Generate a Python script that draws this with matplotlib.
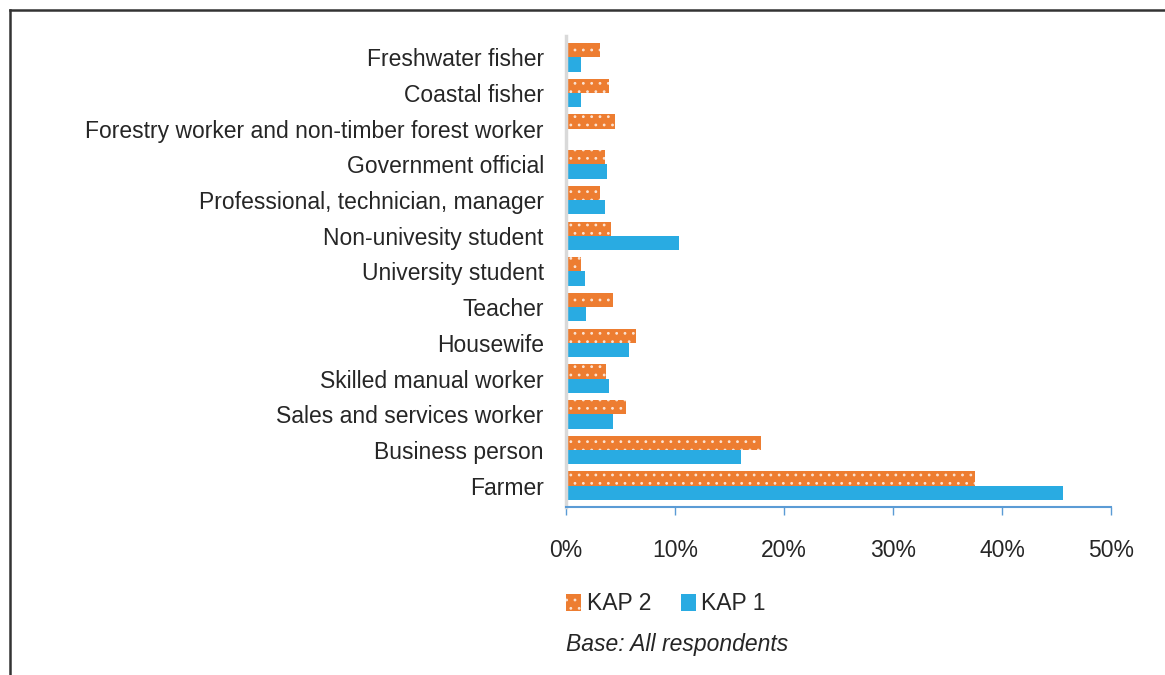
import matplotlib.pyplot as plt
from matplotlib.patches import Patch
from matplotlib.lines import Line2D

plt.rcParams['font.family'] = ['Liberation Sans', 'DejaVu Sans']
plt.rcParams['hatch.linewidth'] = 0.8

categories = ['Freshwater fisher', 'Coastal fisher',
              'Forestry worker and non-timber forest worker',
              'Government official', 'Professional, technician, manager',
              'Non-univesity student', 'University student', 'Teacher',
              'Housewife', 'Skilled manual worker', 'Sales and services worker',
              'Business person', 'Farmer']
kap2 = [3.1, 3.9, 4.5, 3.6, 3.1, 4.1, 1.4, 4.3, 6.4, 3.7, 5.5, 17.9, 37.5]
kap1 = [1.4, 1.4, 0.1, 3.8, 3.6, 10.4, 1.7, 1.8, 5.8, 3.9, 4.3, 16.1, 45.6]
xticks = [0, 10, 20, 30, 40, 50]

orange = '#ED7D31'
blue = '#29ABE2'
textc = '#262626'
fs = 16.5

fig = plt.figure(figsize=(11.65, 6.75), dpi=100)
ax = fig.add_axes([566/1165, 1-507/675, 545/1165, 471/675])

y = list(range(len(categories)))
ax.barh([i - 0.2 for i in y], kap2, height=0.4, color=orange,
        edgecolor='#FBE3D3', linewidth=0, hatch='..', label='KAP 2')
ax.barh([i + 0.2 for i in y], kap1, height=0.4, color=blue,
        linewidth=0, label='KAP 1')

ax.set_ylim(len(categories) - 0.4, -0.6)
ax.set_xlim(0, 50)
ax.set_xticks(xticks)
ax.set_xticklabels([f'{t}%' for t in xticks])
ax.set_yticks(y)
ax.set_yticklabels(categories)

for s in ['top', 'right']:
    ax.spines[s].set_visible(False)
ax.spines['left'].set_color('#D9D9D9')
ax.spines['left'].set_linewidth(2.5)
ax.spines['bottom'].set_color('#5B9BD5')
ax.spines['bottom'].set_linewidth(1.5)

ax.tick_params(axis='y', length=0, pad=16, labelsize=fs, labelcolor=textc)
ax.tick_params(axis='x', direction='out', length=6, width=1, color='#5B9BD5',
               pad=17, labelsize=fs, labelcolor=textc)

handles = [Patch(facecolor=orange, edgecolor='#FBE3D3', linewidth=0, hatch='..', label='KAP 2'),
           Patch(facecolor=blue, linewidth=0, label='KAP 1')]
fig.legend(handles=handles, loc='center left', bbox_to_anchor=(566/1165, 1-604/675),
           frameon=False, ncol=2, handlelength=0.65, handleheight=0.75,
           handletextpad=0.25, columnspacing=1.3, borderpad=0, borderaxespad=0,
           fontsize=fs, labelcolor=textc)

fig.text(566/1165, 1-645/675, 'Base: All respondents', style='italic',
         fontsize=fs, color=textc, va='center')

# frame around the figure
fig.add_artist(Line2D([10/1165, 10/1165], [0, 1-10/675], transform=fig.transFigure,
                      color='#333333', linewidth=1.8))
fig.add_artist(Line2D([10/1165, 1], [1-10/675, 1-10/675], transform=fig.transFigure,
                      color='#333333', linewidth=1.8))

fig.savefig('out.png', dpi=100)
